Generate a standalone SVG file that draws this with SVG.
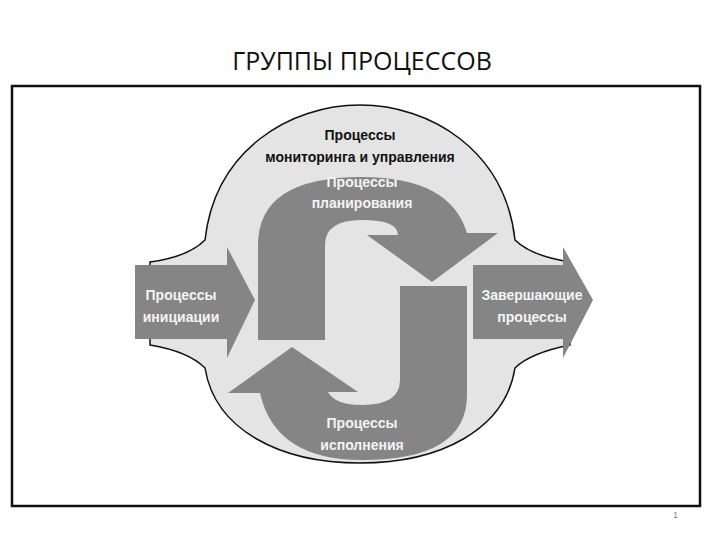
<svg xmlns="http://www.w3.org/2000/svg" width="720" height="540" viewBox="0 0 720 540">
<style>
.a{fill:#858585}
.w{font-family:"Liberation Sans",Arial,sans-serif;font-weight:bold;font-size:14px;fill:#f4f4f4;text-anchor:middle}
.k{font-family:"Liberation Sans",Arial,sans-serif;font-weight:bold;font-size:14px;fill:#111;text-anchor:middle}
</style>
<rect width="720" height="540" fill="#fff"/>
<text x="362" y="70" font-family="'Open Sans','Liberation Sans',sans-serif" font-size="25" text-anchor="middle" fill="#111">ГРУППЫ ПРОЦЕССОВ</text>
<rect x="12" y="86" width="688" height="420" fill="#fff" stroke="#111" stroke-width="2.5"/>
<g id="monitoring">
<path d="M150,262 C180,258 195,250 205,240 C215,150 290,105 360,105 C430,105 505,150 515,240 C525,250 545,258 570,262 L570,345 C545,350 525,358 515,368 C505,430 440,463 360,463 C280,463 215,430 205,368 C195,358 180,350 150,345 Z" fill="#e4e4e4" stroke="#111" stroke-width="1.5"/>
<text class="k" x="360" y="140">Процессы</text>
<text class="k" x="360" y="162">мониторинга и управления</text>
</g>
<g id="initiation">
<path class="a" d="M135,265 H227 V247 L255,300 L227,358 V339 H135 Z"/>
<text class="w" x="181" y="300">Процессы</text>
<text class="w" x="181" y="322">инициации</text>
</g>
<g id="closing">
<path class="a" d="M473,265 H563 V247 L593,300 L563,358 V339 H473 Z"/>
<text class="w" x="532" y="300">Завершающие</text>
<text class="w" x="532" y="322">процессы</text>
</g>
<g id="planning">
<path class="a" d="M258,340 V245 Q258,177 362,177 Q450,177 467,233 L498,233 L432,282 L367,235 L398,235 Q398,220 362,220 Q325,220 325,245 V340 Z"/>
<text class="w" x="362" y="187">Процессы</text>
<text class="w" x="362" y="208">планирования</text>
</g>
<g id="executing">
<path class="a" d="M467,286 V395 Q467,460 362,460 Q275,460 260,393 L228,393 L292,347 L358,392 L328,392 Q335,405 362,405 Q400,405 400,380 V286 Z"/>
<text class="w" x="362" y="428">Процессы</text>
<text class="w" x="362" y="450">исполнения</text>
</g>
<g id="connectors"/>
<text x="673" y="518" font-family="'Liberation Sans',sans-serif" font-size="9" fill="#888">1</text>
</svg>
